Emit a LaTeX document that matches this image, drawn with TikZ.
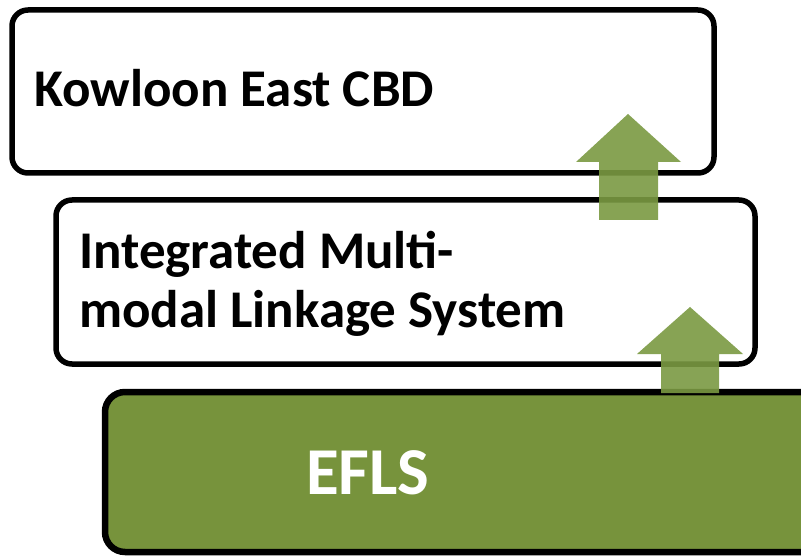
\documentclass[tikz,border=0pt]{standalone}
\usepackage{fontspec}
\setmainfont{Carlito}
\definecolor{olive}{HTML}{77933C}
\definecolor{arrowgreen}{HTML}{7A9942}
\begin{document}
\begin{tikzpicture}[x=1pt,y=-1pt,
  layerbox/.style={draw=black, line width=5.5pt, rounded corners=16pt, fill=white},
  basebox/.style={draw=black, line width=6.5pt, rounded corners=20pt, fill=olive},
  upshape/.style={fill=arrowgreen, fill opacity=0.9, draw=none},
  boxtext/.style={font=\bfseries\fontsize{53}{59}\selectfont, inner sep=0pt, anchor=base west, align=left},
  basetext/.style={font=\bfseries\fontsize{67}{75}\selectfont, text=white, inner sep=0pt, anchor=base west}]
  \useasboundingbox (0,0) rectangle (801,556);

  % the three stacked layers, bottom to top
  \draw[basebox] (105,392) rectangle (830,552);
  \draw[layerbox] (56,200) rectangle (755,364);
  \draw[layerbox] (12,10) rectangle (714,173);

  \node[basetext] (efls) at (306,494) {EFLS};
  \node[boxtext] (imls) at (79,327) {Integrated Multi-\\modal Linkage System};
  \node[boxtext] (kecbd) at (34,107) {Kowloon East CBD};

  % upward block arrows between the layers
  \fill[upshape] (599,220) -- (599,162) -- (576,162) -- (628,114) -- (681,162) -- (658,162) -- (658,220) -- cycle;
  \fill[upshape] (661,393) -- (661,354) -- (637,354) -- (690,307) -- (743,354) -- (719,354) -- (719,393) -- cycle;
\end{tikzpicture}
\end{document}
